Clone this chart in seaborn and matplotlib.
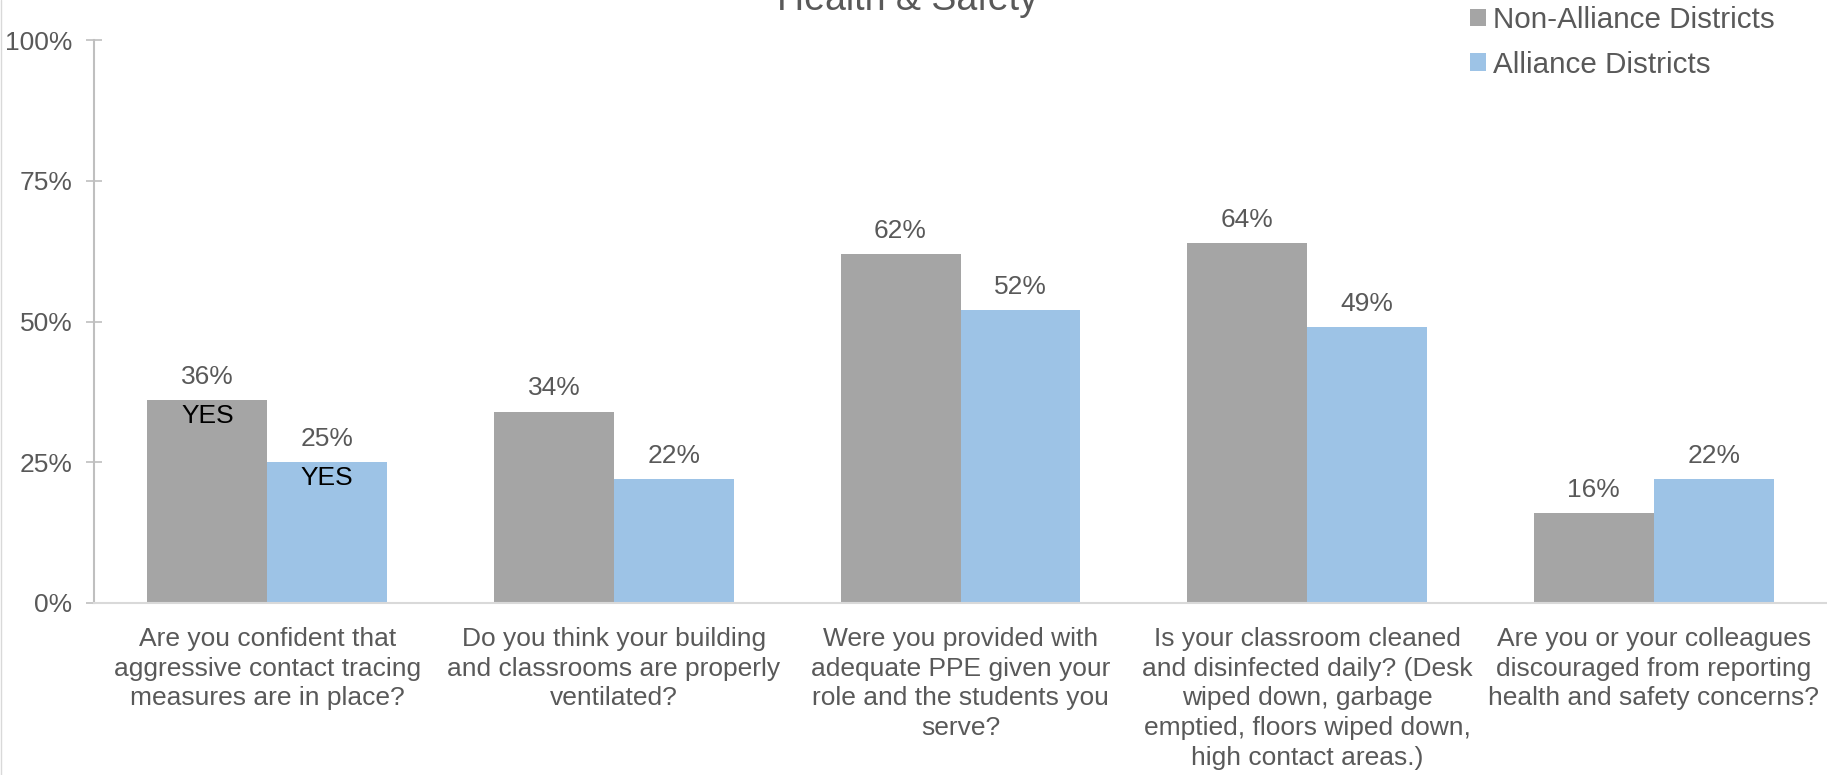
import matplotlib
matplotlib.use("Agg")
import matplotlib.pyplot as plt
from matplotlib.patches import Patch
from matplotlib.lines import Line2D
import seaborn as sns
import pandas as pd

questions = [
    "Are you confident that\naggressive contact tracing\nmeasures are in place?",
    "Do you think your building\nand classrooms are properly\nventilated?",
    "Were you provided with\nadequate PPE given your\nrole and the students you\nserve?",
    "Is your classroom cleaned\nand disinfected daily? (Desk\nwiped down, garbage\nemptied, floors wiped down,\nhigh contact areas.)",
    "Are you or your colleagues\ndiscouraged from reporting\nhealth and safety concerns?",
]
groups = ["Non-Alliance Districts", "Alliance Districts"]
non_alliance = [36, 34, 62, 64, 16]
alliance = [25, 22, 52, 49, 22]
inner_labels_non = ["YES", "", "", "", ""]
inner_labels_all = ["YES", "", "", "", ""]
yticks = [0, 25, 50, 75, 100]
ytick_labels = ["0%", "25%", "50%", "75%", "100%"]
title = "Health & Safety"

colors = {"Non-Alliance Districts": "#A5A5A5", "Alliance Districts": "#9DC3E6"}
TXT = "#595959"

df = pd.DataFrame({
    "question": questions * 2,
    "group": [groups[0]] * len(questions) + [groups[1]] * len(questions),
    "value": non_alliance + alliance,
})

sns.set_theme(style="white")
plt.rcParams["font.family"] = ["Liberation Sans", "DejaVu Sans"]

W, H = 1827, 775
fig = plt.figure(figsize=(W / 100, H / 100), dpi=100)
ax = fig.add_axes([94 / W, 1 - 603 / H, 1 - 94 / W, (603 - 40) / H])

sns.barplot(data=df, x="question", y="value", hue="group", order=questions,
            hue_order=groups, palette=colors, saturation=1, width=0.692,
            legend=False, ax=ax, errorbar=None, linewidth=0, edgecolor="none")

ax.set_xlim(-0.5, 4.5)
ax.set_ylim(0, 100)
ax.set_xlabel("")
ax.set_ylabel("")
ax.set_yticks(yticks)
ax.set_yticklabels(ytick_labels)
ax.tick_params(axis="y", direction="inout", length=11, width=1.2, color="#BFBFBF",
               labelsize=19, labelcolor=TXT, pad=10, left=True)
ax.tick_params(axis="x", length=0, labelsize=19, labelcolor=TXT, pad=17)
for lab in ax.get_xticklabels():
    lab.set_linespacing(1.31)
    lab.set_ha("center")

for s in ["top", "right"]:
    ax.spines[s].set_visible(False)
ax.spines["left"].set_color("#BFBFBF")
ax.spines["left"].set_linewidth(1.5)
ax.spines["bottom"].set_color("#D9D9D9")
ax.spines["bottom"].set_linewidth(1.5)

# value labels and inner labels
for cont, inner in zip(ax.containers, [inner_labels_non, inner_labels_all]):
    ax.bar_label(cont, labels=[f"{v:.0f}%" for v in cont.datavalues],
                 padding=8, fontsize=19, color=TXT)
    ax.bar_label(cont, labels=inner, label_type="edge", padding=-20,
                 fontsize=19, color="black")

fig.text(907 / W, 1 - 10 / H, title, ha="center", va="baseline",
         fontsize=27, color=TXT)

handles = [Patch(facecolor=colors[g], edgecolor="none") for g in groups]
fig.legend(handles, groups, loc="upper left", bbox_to_anchor=(1470 / W, 1 - 6 / H),
           frameon=False, fontsize=21.3, labelcolor=TXT, handlelength=0.55,
           handleheight=0.55, handletextpad=0.22, labelspacing=0.57,
           borderpad=0.0, borderaxespad=0.0)

fig.add_artist(Line2D([0.5 / W, 0.5 / W], [0, 1], color="#D9D9D9", lw=1))

fig.savefig("out.png", dpi=100)
